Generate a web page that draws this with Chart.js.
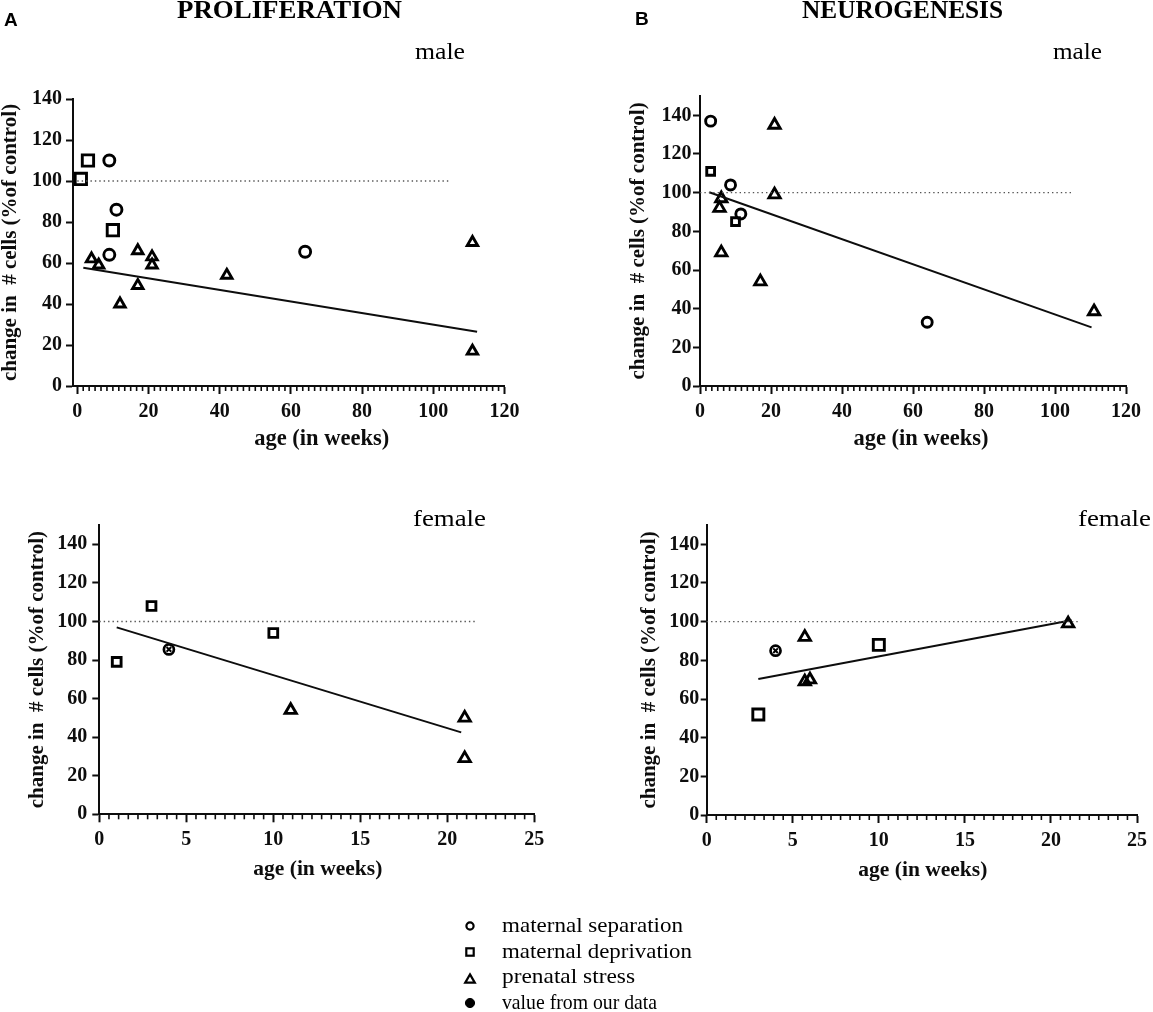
<!DOCTYPE html>
<html>
<head>
<meta charset="utf-8">
<script src="https://cdn.jsdelivr.net/npm/chart.js@4.4.1/dist/chart.umd.min.js"></script>
<style>
  html, body { margin: 0; padding: 0; background: #fff; }
  #page { position: relative; width: 1153px; height: 1012px; overflow: hidden; background: #fff; }
  #page canvas { position: absolute; }
  #overlay { position: absolute; left: 0; top: 0; }
</style>
</head>
<body>
<div id="page">
  <canvas id="pm" width="535" height="380" style="left:0px;top:80px"></canvas>
  <canvas id="nm" width="533" height="380" style="left:620px;top:80px"></canvas>
  <canvas id="pf" width="560" height="380" style="left:0px;top:505px"></canvas>
  <canvas id="nf" width="533" height="380" style="left:620px;top:505px"></canvas>
  <svg id="overlay" width="1153" height="1012" font-family="Liberation Serif" fill="#000">
    <text x="4" y="26" font-family="Liberation Sans" font-weight="bold" font-size="19">A</text>
    <text x="177" y="18" font-weight="bold" font-size="26" textLength="225" lengthAdjust="spacingAndGlyphs">PROLIFERATION</text>
    <text x="635" y="25" font-family="Liberation Sans" font-weight="bold" font-size="19">B</text>
    <text x="802" y="18" font-weight="bold" font-size="26" textLength="201" lengthAdjust="spacingAndGlyphs">NEUROGENESIS</text>
    <text x="415" y="59" font-size="24" textLength="50" lengthAdjust="spacingAndGlyphs">male</text>
    <text x="1053" y="59" font-size="24" textLength="49" lengthAdjust="spacingAndGlyphs">male</text>
    <text x="413" y="526" font-size="24" textLength="73" lengthAdjust="spacingAndGlyphs">female</text>
    <text x="1078" y="526" font-size="24" textLength="73" lengthAdjust="spacingAndGlyphs">female</text>
    <!-- legend -->
    <circle cx="470" cy="926" r="3.6" fill="none" stroke="#000" stroke-width="2.2"/>
    <text x="502" y="932" font-size="21" textLength="181" lengthAdjust="spacingAndGlyphs">maternal separation</text>
    <rect x="466.3" y="948.3" width="7.4" height="7.4" fill="none" stroke="#000" stroke-width="2.2"/>
    <text x="502" y="957.5" font-size="21" textLength="190" lengthAdjust="spacingAndGlyphs">maternal deprivation</text>
    <polygon points="470,974.4 474.8,982.7 465.2,982.7" fill="none" stroke="#000" stroke-width="2.2" stroke-linejoin="miter"/>
    <text x="502" y="983" font-size="21" textLength="133" lengthAdjust="spacingAndGlyphs">prenatal stress</text>
    <circle cx="470" cy="1003" r="4.6" fill="#000" stroke="#000" stroke-width="1"/>
    <text x="502" y="1008.5" font-size="21" textLength="155" lengthAdjust="spacingAndGlyphs">value from our data</text>
  </svg>
</div>
<script>
// ---------- shared tick labels ----------
const yTickValues = [0, 20, 40, 60, 80, 100, 120, 140];
const xTicksAdult = [0, 20, 40, 60, 80, 100, 120];
const xTicksYoung = [0, 5, 10, 15, 20, 25];
const xTitle = 'age (in weeks)';
const yTitle = 'change in  # cells (%of control)';
const refY = [100, 100];

// ---------- A · PROLIFERATION · male ----------
const pmSepX = [9, 11, 9, 64];
const pmSepY = [110, 86, 64, 65.5];
const pmDepX = [1, 3, 10];
const pmDepY = [101, 110, 76];
const pmStrX = [4, 6, 12, 17, 17, 21, 21, 42, 111, 111];
const pmStrY = [62, 59, 40, 66, 49, 63, 59, 54, 70, 17];
const pmFitX = [1.7, 112.3];
const pmFitY = [57.7, 26.5];
const pmRefX = [0, 104.5];

// ---------- B · NEUROGENESIS · male ----------
const nmSepX = [3, 8.6, 11.5, 64];
const nmSepY = [137, 104, 89, 33];
const nmDepX = [3, 10];
const nmDepY = [111, 85];
const nmStrX = [6, 5.5, 6, 17, 21, 21, 111];
const nmStrY = [97, 92, 69, 54, 135, 99, 38.5];
const nmFitX = [2.6, 110.3];
const nmFitY = [100.2, 30.3];
const nmRefX = [0, 104.5];

// ---------- A · PROLIFERATION · female ----------
const pfDepX = [1, 3, 10];
const pfDepY = [79, 108, 94];
const pfOurX = [4];
const pfOurY = [85.5];
const pfStrX = [11, 21, 21];
const pfStrY = [54, 50, 29];
const pfFitX = [1, 20.8];
const pfFitY = [96.9, 42.5];
const pfRefX = [0, 21.7];

// ---------- B · NEUROGENESIS · female ----------
const nfDepX = [3, 10];
const nfDepY = [52, 88];
const nfOurX = [4];
const nfOurY = [85];
const nfStrX = [5.7, 5.7, 6, 21];
const nfStrY = [92, 69, 70, 99];
const nfFitX = [3, 21.2];
const nfFitY = [70.3, 100.7];
const nfRefX = [0, 21.7];

// ---------- helpers ----------
const FONT = 'Liberation Serif';
const INK = '#0d0d0d';
Chart.defaults.font.family = FONT;
Chart.defaults.color = INK;

function pts(xs, ys) { return xs.map((x, i) => ({ x: x, y: ys[i] })); }

function markers(xs, ys, style, r, bw) {
  const w = bw || 2.9;
  return {
    data: pts(xs, ys), showLine: false, clip: false,
    pointStyle: style, pointRadius: r, pointHoverRadius: r,
    pointBorderWidth: w, pointHoverBorderWidth: w,
    pointBorderColor: '#000', pointBackgroundColor: 'rgba(0,0,0,0)'
  };
}
// "value from our data": circle with a cross inside (two layered library point styles)
function ourMarkers(xs, ys) {
  return [markers(xs, ys, 'circle', 5, 2.7), markers(xs, ys, 'crossRot', 3.3, 2)];
}
function fitLine(xs, ys) {
  return { data: pts(xs, ys), showLine: true, pointRadius: 0, borderColor: INK, borderWidth: 2, clip: false };
}
function refLine(xs) {
  return { data: pts(xs, refY), showLine: true, pointRadius: 0, borderColor: '#555', borderWidth: 1.4, borderDash: [1.4, 3], clip: false };
}

// minor ticks along the x axis + x-axis title placed as in the original figure
const axisExtrasPlugin = {
  id: 'axisExtras',
  afterDraw(chart, args, opts) {
    const sx = chart.scales.x;
    const ctx = chart.ctx;
    const area = chart.chartArea;
    const y0 = area.bottom;
    ctx.save();
    ctx.strokeStyle = INK;
    ctx.lineWidth = 1.6;
    for (let i = 0; i <= opts.count; i++) {
      if (i % opts.every === 0) continue;
      const px = sx.getPixelForValue(opts.from + i * opts.step);
      ctx.beginPath();
      ctx.moveTo(px, y0);
      ctx.lineTo(px, y0 + opts.len);
      ctx.stroke();
    }
    ctx.fillStyle = INK;
    ctx.font = 'bold ' + opts.titleSize + 'px "' + FONT + '"';
    ctx.textAlign = 'center';
    ctx.textBaseline = 'middle';
    ctx.fillText(xTitle, (area.left + area.right) / 2 + opts.titleShift, y0 + opts.titleDy);
    ctx.restore();
  }
};

function makePanel(id, g, datasets) {
  return new Chart(document.getElementById(id), {
    type: 'scatter',
    data: { datasets: datasets },
    options: {
      responsive: false, animation: false, events: [],
      layout: { padding: { top: g.padTop, right: g.padRight, left: 0, bottom: 0 } },
      plugins: {
        legend: { display: false }, tooltip: { enabled: false },
        axisExtras: { from: 0, step: g.minorStep, count: g.minorCount, every: g.minorEvery, len: 5,
                      titleSize: g.xTitleSize, titleShift: g.xTitleShift, titleDy: g.xTitleDy }
      },
      scales: {
        x: {
          type: 'linear', min: g.xMin, max: g.xMax,
          afterBuildTicks: s => { s.ticks = g.xTicks.map(v => ({ value: v })); },
          afterFit: s => { s.height = g.xAxisH; },
          grid: { drawOnChartArea: false, drawTicks: true, tickLength: 8, tickWidth: 2, tickColor: INK },
          border: { display: true, color: INK, width: 2 },
          ticks: { color: INK, padding: g.xLabelPad, maxRotation: 0, autoSkip: false,
                   font: { family: FONT, size: 20, weight: 'bold' } },
          title: { display: false }
        },
        y: {
          type: 'linear', min: 0, max: g.yMax,
          afterBuildTicks: s => { s.ticks = yTickValues.map(v => ({ value: v })); },
          afterFit: s => { s.width = g.yAxisW; },
          grid: { drawOnChartArea: false, drawTicks: true, tickLength: g.yTickLen, tickWidth: 2, tickColor: INK },
          border: { display: true, color: INK, width: 2 },
          ticks: { color: INK, padding: g.yLabelPad, font: { family: FONT, size: 20, weight: 'bold' } },
          title: { display: true, text: yTitle, color: INK,
                   font: { family: FONT, size: 21, weight: 'bold', lineHeight: 1 },
                   padding: { top: g.yTitlePad, bottom: 0 } }
        }
      }
    },
    plugins: [axisExtrasPlugin]
  });
}

// A male
makePanel('pm', {
  padTop: 19, padRight: 30.5, yAxisW: 73, xAxisH: 74,
  xMin: -1.2, xMax: 120, xTicks: xTicksAdult, yMax: 140,
  minorStep: 20 / 12, minorCount: 72, minorEvery: 12,
  xLabelPad: 6, xTitleSize: 22.5, xTitleShift: 33, xTitleDy: 53,
  yTickLen: 7, yLabelPad: 4, yTitlePad: 0.5
}, [
  refLine(pmRefX),
  fitLine(pmFitX, pmFitY),
  markers(pmSepX, pmSepY, 'circle', 5.5),
  markers(pmDepX, pmDepY, 'rect', 8),
  markers(pmStrX, pmStrY, 'triangle', 6)
]);

// B male
makePanel('nm', {
  padTop: 16, padRight: 27, yAxisW: 80, xAxisH: 74,
  xMin: 0, xMax: 120, xTicks: xTicksAdult, yMax: 150,
  minorStep: 20 / 12, minorCount: 72, minorEvery: 12,
  xLabelPad: 6, xTitleSize: 22.5, xTitleShift: 8, xTitleDy: 53,
  yTickLen: 7, yLabelPad: 1.5, yTitlePad: 8.5
}, [
  refLine(nmRefX),
  fitLine(nmFitX, nmFitY),
  markers(nmSepX, nmSepY, 'circle', 5),
  markers(nmDepX, nmDepY, 'rect', 5.5),
  markers(nmStrX, nmStrY, 'triangle', 6.5)
]);

// A female
makePanel('pf', {
  padTop: 20, padRight: 25.7, yAxisW: 99.3, xAxisH: 70.7,
  xMin: 0, xMax: 25, xTicks: xTicksYoung, yMax: 150,
  minorStep: 5 / 9, minorCount: 45, minorEvery: 9,
  xLabelPad: 6, xTitleSize: 21.5, xTitleShift: 1, xTitleDy: 55.5,
  yTickLen: 7, yLabelPad: 5, yTitlePad: 27.5
}, [
  refLine(pfRefX),
  fitLine(pfFitX, pfFitY),
  markers(pfDepX, pfDepY, 'rect', 6.2),
  markers(pfStrX, pfStrY, 'triangle', 6.5)
].concat(ourMarkers(pfOurX, pfOurY)));

// B female
makePanel('nf', {
  padTop: 20, padRight: 11.3, yAxisW: 86.7, xAxisH: 70,
  xMin: 0, xMax: 25, xTicks: xTicksYoung, yMax: 150,
  minorStep: 5 / 9, minorCount: 45, minorEvery: 9,
  xLabelPad: 6, xTitleSize: 21.5, xTitleShift: 1, xTitleDy: 55,
  yTickLen: 6, yLabelPad: 1.5, yTitlePad: 19.5
}, [
  refLine(nfRefX),
  fitLine(nfFitX, nfFitY),
  markers(nfDepX, nfDepY, 'rect', 7.8),
  markers(nfStrX, nfStrY, 'triangle', 6.5)
].concat(ourMarkers(nfOurX, nfOurY)));
</script>
</body>
</html>
